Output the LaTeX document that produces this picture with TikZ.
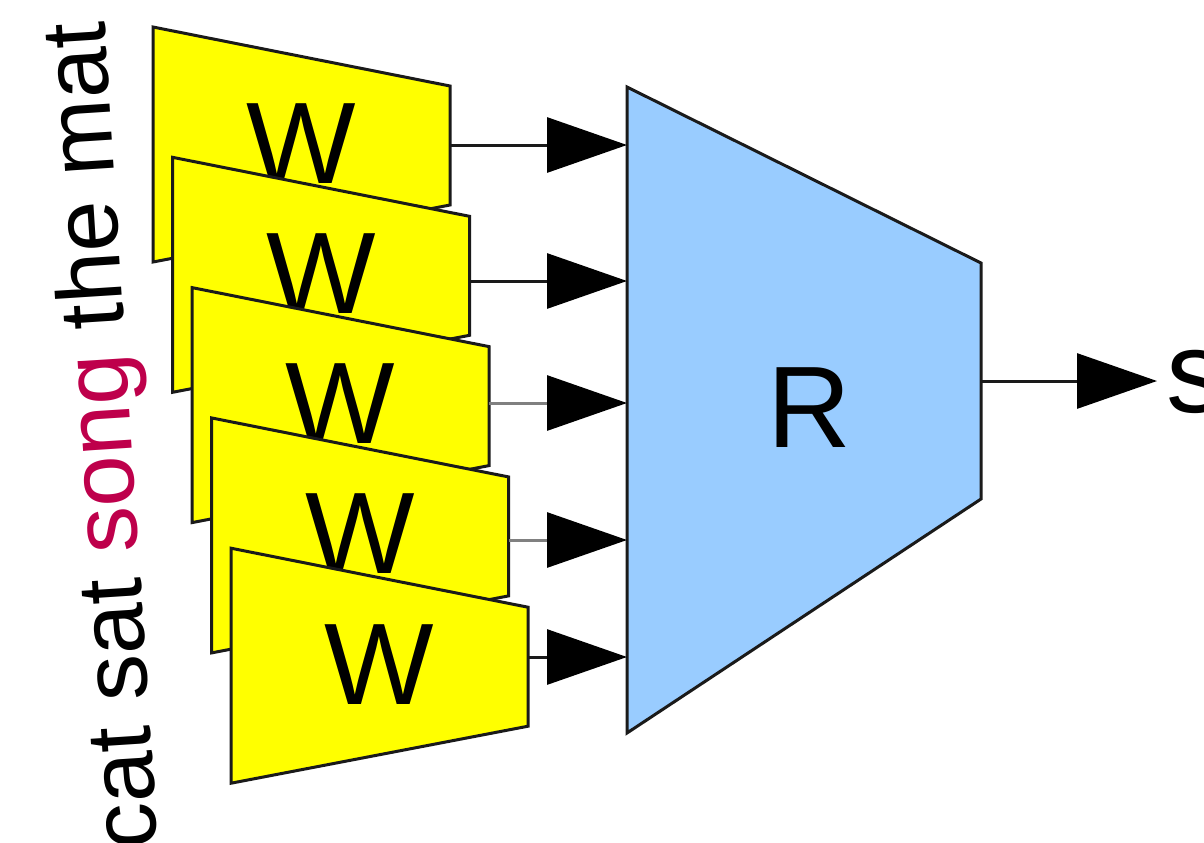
\documentclass[tikz,border=0pt]{standalone}
\usepackage{fontspec}
\setmainfont{Liberation Sans}
\usetikzlibrary{arrows.meta}
\definecolor{wyellow}{HTML}{FFFF00}
\definecolor{rblue}{HTML}{99CCFF}
\definecolor{edgecol}{HTML}{1A1A1A}
\definecolor{songred}{RGB}{190,0,75}
\begin{document}
\begin{tikzpicture}[x=0.5pt,y=-0.5pt,
  wbox/.style={fill=wyellow,draw=edgecol,line width=1.5pt,line join=miter},
  rbox/.style={fill=rblue,draw=edgecol,line width=1.5pt},
  bigtext/.style={font=\fontsize{58}{60}\selectfont,inner sep=0pt},
  conn/.style={draw=edgecol,line width=1.5pt,-{Triangle[length=40pt,width=27.5pt,color=black,fill=black]}},
  conngray/.style={conn,draw=black!50},
]
\useasboundingbox (0,0) rectangle (1204,842);
% word stack
\node[font=\fontsize{46}{48}\selectfont,inner sep=0pt,anchor=base west,rotate=93.7] (words) at (158,848) {cat sat \textcolor{songred}{song} the mat};
% W trapezoids
\foreach \k/\ay in {0/145,1/281,2/403,3/540,4/657} {
  \pgfmathsetmacro\xl{153+19.5*\k}
  \pgfmathsetmacro\xr{\xl+297}
  \pgfmathsetmacro\yt{27+130.3*\k}
  \draw[wbox] (\xl,\yt) -- (\xr,\yt+59) -- (\xr,\yt+178) -- (\xl,\yt+235) -- cycle;
  \node[bigtext,anchor=base] (w\k) at ({(\xl+\xr)/2},\yt+156) {W};
  \coordinate (o\k) at (\xr,\ay);
  \coordinate (i\k) at (627,\ay);
}
% R trapezoid
\draw[rbox] (627,87) -- (981,263) -- (981,499) -- (627,733) -- cycle;
\node[bigtext] (R) at (809,407.5) {R};
% connectors
\draw[conn] (o0) -- (i0);
\draw[conn] (o1) -- (i1);
\draw[conngray] (o2) -- (i2);
\draw[conngray] (o3) -- (i3);
\draw[conn] (o4) -- (i4);
\coordinate (rout) at (981,381);
\coordinate (sin) at (1157,381);
\draw[conn] (rout) -- (sin);
\node[bigtext,anchor=base west] (s) at (1166,412) {s};
\end{tikzpicture}
\end{document}
